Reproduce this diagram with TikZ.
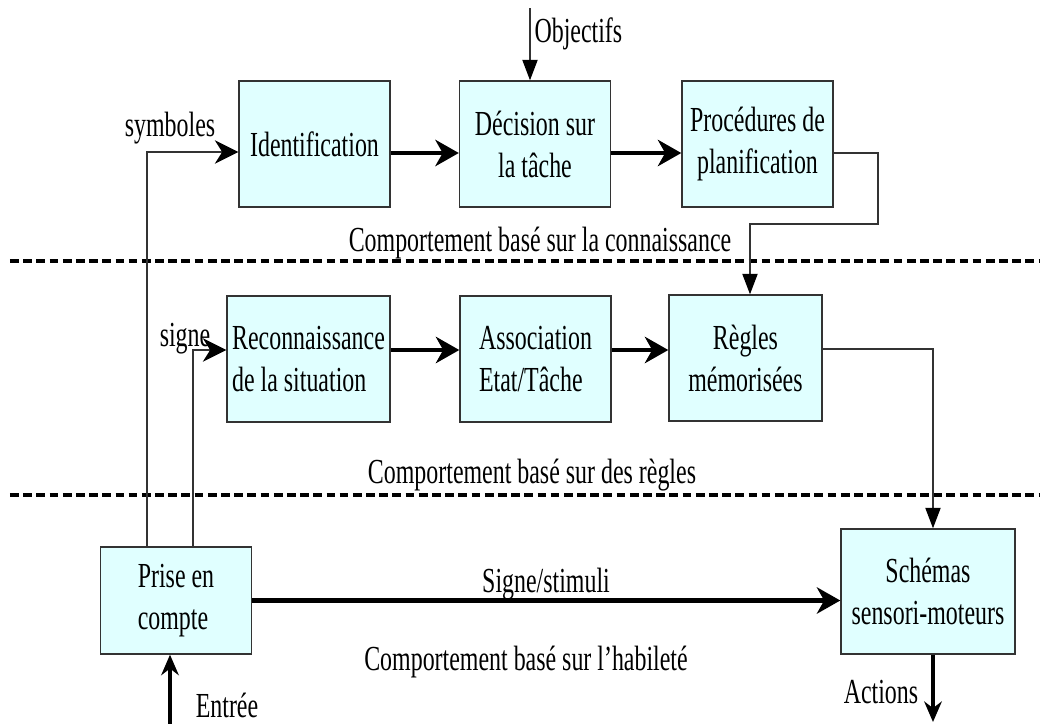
\documentclass[tikz,border=0pt]{standalone}
\usepackage{fontspec}
\setmainfont{Liberation Serif}[FakeStretch=0.68]
\usepackage{tikz}
\usetikzlibrary{arrows.meta,calc}
\definecolor{boxcyan}{HTML}{E0FFFF}
\definecolor{edgegray}{HTML}{333333}

\begin{document}
\begin{tikzpicture}[x=0.012cm,y=-0.012cm,
  font=\fontsize{12pt}{14.3pt}\selectfont,
  box/.style={draw=edgegray,line width=0.45pt,fill=boxcyan,inner sep=0pt,
    align=center,minimum width=1.812cm,minimum height=1.512cm},
  link/.style={draw=edgegray,line width=0.45pt,-{Stealth[length=8pt,width=8pt,inset=2.5pt,color=black]}},
  drop/.style={draw=edgegray,line width=0.45pt,-{Triangle[length=7pt,width=5.2pt,color=black]}},
  flow/.style={line width=1.4pt,-{Stealth[length=8pt,width=9pt,inset=2.5pt]}},
  io/.style={line width=1.1pt,-{Stealth[length=7pt,width=6pt]}},
  layer/.style={line width=1.1pt,dash pattern=on 3pt off 1.5pt}]
\useasboundingbox (0,0) rectangle (1046,724);

% boxes
\path (314.5,144) node[box] (ident) {Identification};
\path (535,144) node[box] (decis) {Décision sur\\la tâche};
\path (757.5,144) node[box] (plan) {Procédures de\\planification};
\path (308.5,359) node[box,minimum width=1.956cm,align=left] (recon) {Reconnaissance\\de la situation};
\path (535.5,359) node[box,align=left] (assoc) {Association\\Etat/Tâche};
\path (745.5,358) node[box,minimum width=1.836cm] (regles) {Règles\\mémorisées};
\path (176,600.5) node[box,minimum height=1.284cm,align=left] (prise) {Prise en\\compte};
\path (928,591.5) node[box,minimum width=2.088cm,minimum height=1.5cm] (schemas) {Schémas\\sensori-moteurs};

% labels
\path (170,128) node (symb) {symboles};
\path (185,339) node (sig) {signe};
\path (534,34) node[right,inner sep=0pt] (obj) {Objectifs};
\path (540,243) node (know) {Comportement basé sur la connaissance};
\path (532,475) node (rule) {Comportement basé sur des règles};
\path (546,584) node (stim) {Signe/stimuli};
\path (526,662) node (skill) {Comportement basé sur l’habileté};
\path (881,692) node (act) {Actions};
\path (227,705) node (ent) {Entrée};

% levels
\draw[layer] (10,261) -- (1040,261);
\draw[layer] (10,495) -- (1040,495);

% free ends
\coordinate (objin) at (530,8);
\coordinate (actout) at (933,722);
\coordinate (entin) at (170,724);
\coordinate (bend) at (878,224);

\draw[drop] (objin) -- (objin |- decis.north);
\draw[flow] ($(ident.east)+(0,9)$) -- ($(decis.west)+(0,9)$);
\draw[flow] ($(decis.east)+(0,9)$) -- ($(plan.west)+(0,9)$);
\draw[drop] ($(plan.east)+(0,9)$) -| (bend) -| ($(regles.north)+(4.5,0)$);
\draw[flow] ($(recon.east)+(0,-9)$) -- ($(assoc.west)+(0,-9)$);
\draw[flow] ($(assoc.east)+(0,-9)$) -- ($(regles.west)+(0,-8)$);
\draw[drop] ($(regles.east)+(0,-9)$) -| ($(schemas.north)+(5,0)$);
\draw[link] ($(prise.north)+(-29,0)$) |- ($(ident.west)+(0,8)$);
\draw[link] ($(prise.north)+(17,0)$) |- ($(recon.west)+(0,-9)$);
\draw[flow] (prise.east) -- (prise.east -| schemas.west);
\draw[io] ($(schemas.south)+(5,0)$) -- (actout);
\draw[io] (entin) -- (entin |- prise.south);
\end{tikzpicture}
\end{document}
